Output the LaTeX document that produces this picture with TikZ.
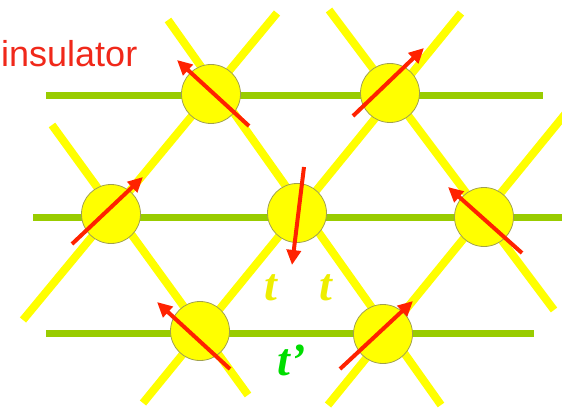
\documentclass[tikz,border=0pt]{standalone}
\usepackage{fontspec}
\setmainfont{Liberation Serif}
\setsansfont{Liberation Sans}
\usetikzlibrary{arrows.meta, calc}
\definecolor{siteyellow}{HTML}{FFFF00}
\definecolor{sitegray}{HTML}{A0A050}
\definecolor{hopyellow}{HTML}{FFFF00}
\definecolor{bondgreen}{HTML}{99CC00}
\definecolor{spinred}{HTML}{FF2200}
\definecolor{labelred}{HTML}{F0281A}
\definecolor{tyellow}{HTML}{EEEE00}
\definecolor{tgreen}{HTML}{00DD00}

\begin{document}
\begin{tikzpicture}[x=1pt, y=-1pt,
  site/.style={circle, draw=sitegray, fill=siteyellow, line width=0.8pt, minimum size=59pt, inner sep=0pt},
  hop/.style={draw=hopyellow, line width=8pt},
  hopnn/.style={draw=bondgreen, line width=7pt},
  spin/.style={draw=spinred, line width=4pt, -{Triangle[length=15pt,width=14pt]}},
  tlabel/.style={font=\fontsize{46}{46}\selectfont\bfseries\itshape, inner sep=0pt}
]
\useasboundingbox (0,0) rectangle (562,409);

% Line ends
\coordinate (g1w) at (46,96);   \coordinate (g1e) at (543,96);
\coordinate (g2w) at (33,217);  \coordinate (g2e) at (562,217);
\coordinate (g3w) at (46,333);  \coordinate (g3e) at (534,333);
\coordinate (u1s) at (23,320);  \coordinate (u1e) at (277,13);
\coordinate (u2s) at (143,403); \coordinate (u2e) at (461,13);
\coordinate (u3s) at (328,405); \coordinate (u3e) at (566,113);
\coordinate (d1s) at (52,125);  \coordinate (d1e) at (248,395);
\coordinate (d2s) at (168,20);  \coordinate (d2e) at (441,405);
\coordinate (d3s) at (329,10);  \coordinate (d3e) at (554,310);

% Next-nearest bonds
\draw[hopnn] (g1w) -- (g1e);
\draw[hopnn] (g2w) -- (g2e);
\draw[hopnn] (g3w) -- (g3e);

% Nearest bonds
\draw[hop] (u1s) -- (u1e);
\draw[hop] (u2s) -- (u2e);
\draw[hop] (u3s) -- (u3e);
\draw[hop] (d1s) -- (d1e);
\draw[hop] (d2s) -- (d2e);
\draw[hop] (d3s) -- (d3e);

% Sites
\node[site] (A) at (211,94) {};
\node[site] (B) at (390,93) {};
\node[site] (C) at (111,214) {};
\node[site] (D) at (297,213) {};
\node[site] (E) at (484,217) {};
\node[site] (F) at (200,331) {};
\node[site] (G) at (383,334) {};

% Spins
\draw[spin] ($(A)+(38,32)$) -- ($(A)+(-34,-34)$);
\draw[spin] ($(B)+(-37,23)$) -- ($(B)+(34,-45)$);
\draw[spin] ($(C)+(-39,30)$) -- ($(C)+(32,-37)$);
\draw[spin] ($(D)+(7,-46)$) -- ($(D)+(-5,52)$);
\draw[spin] ($(E)+(38,36)$) -- ($(E)+(-36,-30)$);
\draw[spin] ($(F)+(30,38)$) -- ($(F)+(-43,-29)$);
\draw[spin] ($(G)+(-43,35)$) -- ($(G)+(30,-33)$);

% Labels
\node[font=\sffamily\fontsize{36}{36}\selectfont, text=labelred, anchor=base west, inner sep=0pt] (title) at (1,67) {insulator};
\node[tlabel, text=tyellow, anchor=base] (tl) at (271,300) {t};
\node[tlabel, text=tyellow, anchor=base] (tr) at (326,300) {t};
\node[tlabel, text=tgreen, anchor=base] (tp) at (292,375) {t'};

\end{tikzpicture}
\end{document}
